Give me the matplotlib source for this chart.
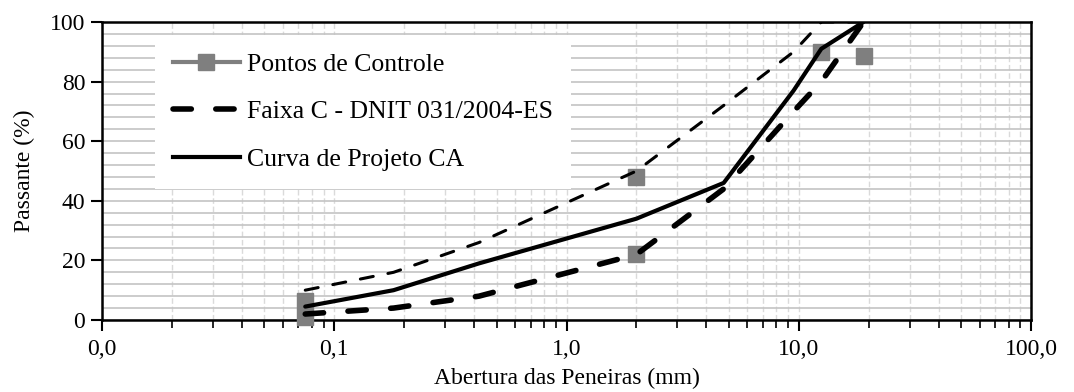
import numpy as np
import matplotlib
matplotlib.use('Agg')
import matplotlib.pyplot as plt
from matplotlib.lines import Line2D
from matplotlib.ticker import FuncFormatter, MultipleLocator, LogLocator

plt.rcParams['font.family'] = ['Liberation Serif', 'DejaVu Serif']
plt.rcParams['font.size'] = 17

# peneiras (mm)
sieves = [0.075, 0.18, 0.42, 2.0, 4.75, 9.5, 12.5, 19.0]
faixa_sup = [10, 16, 26, 50, 72, 90, 100, 100]
faixa_inf = [2, 4, 8, 22, 44, 70, 80, 100]
curva_ca = [4.5, 10, 19, 34, 46, 77, 91, 100]

# pontos de controle
ctrl_x = [0.075, 0.075, 2.0, 2.0, 12.5, 19.0]
ctrl_y = [6.5, 1.0, 48, 22, 90, 88.5]

fig = plt.figure(figsize=(10.74, 3.92), dpi=100)
ax = fig.add_axes([0.095, 0.1837, 0.865, 0.7602])

gray = '#7f7f7f'
ax.plot(ctrl_x, ctrl_y, linestyle='none', marker='s', ms=12, color=gray,
        zorder=3, clip_on=False)
ax.plot(sieves, faixa_sup, color='black', lw=2.2, linestyle=(0, (4.3, 4.9)),
        dash_capstyle='round', zorder=4)
ax.plot(sieves, faixa_inf, color='black', lw=4, linestyle=(0, (3.3, 4.4)),
        dash_capstyle='round', zorder=4)
ax.plot(sieves, curva_ca, color='black', lw=3, solid_capstyle='round', zorder=5)

ax.set_xscale('log')
ax.set_xlim(0.01, 100)
ax.set_ylim(0, 100)
ax.xaxis.set_major_locator(LogLocator(base=10, numticks=10))
ax.xaxis.set_minor_locator(LogLocator(base=10, subs=np.arange(2, 10), numticks=10))
ax.xaxis.set_major_formatter(FuncFormatter(lambda v, _: f'{v:.1f}'.replace('.', ',')))
ax.yaxis.set_major_locator(MultipleLocator(20))
ax.yaxis.set_minor_locator(MultipleLocator(4))

ax.grid(axis='x', which='both', color='#dadada', lw=1, linestyle=(0, (4, 2)), zorder=0)
ax.grid(axis='y', which='both', color='#c4c4c4', lw=1.2, zorder=1)
ax.set_axisbelow(True)

ax.tick_params(axis='x', which='major', direction='out', length=8, width=1.5, pad=6)
ax.tick_params(axis='x', which='minor', direction='out', length=6, width=1.2)
ax.tick_params(axis='y', which='major', direction='out', length=8, width=1.5, pad=4)
ax.tick_params(axis='y', which='minor', length=0)
for s in ax.spines.values():
    s.set_linewidth(1.8)

ax.set_xlabel('Abertura das Peneiras (mm)', labelpad=5)
ax.set_ylabel('Passante (%)', labelpad=11)

handles = [
    Line2D([], [], color=gray, lw=3, marker='s', ms=12),
    Line2D([], [], color='black', lw=4, linestyle=(0, (3.3, 4.4)), dash_capstyle='round'),
    Line2D([], [], color='black', lw=3),
]
labels = ['Pontos de Controle', 'Faixa C - DNIT 031/2004-ES', 'Curva de Projeto CA']
leg = ax.legend(handles, labels, loc='upper left', bbox_to_anchor=(0.057, 0.956),
                borderaxespad=0, frameon=True, fancybox=False, framealpha=1,
                facecolor='white', edgecolor='none', borderpad=0.7,
                labelspacing=0.95, handlelength=2.6, handletextpad=0.3,
                fontsize=18.5)
leg.set_zorder(2)

fig.savefig('out.png', dpi=100)
